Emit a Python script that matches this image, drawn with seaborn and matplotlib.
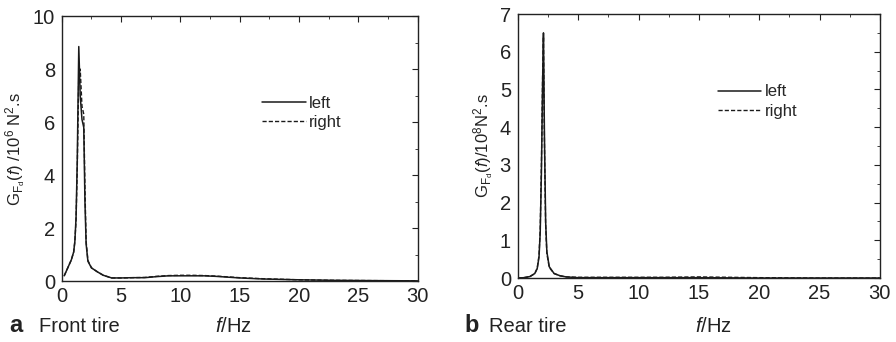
import numpy as np
import pandas as pd
import seaborn as sns
import matplotlib.pyplot as plt
from matplotlib.ticker import MultipleLocator

# Front tire PSD (10^6 N^2.s)
front_f = [0.2, 0.5, 0.8, 1.0, 1.1, 1.2, 1.3, 1.43, 1.55, 1.7, 1.85, 1.95, 2.05, 2.2, 2.5, 3.0, 3.5, 4.2, 5.0, 6.0, 7.0, 8.0, 9.0, 10.0, 11.0, 12.0, 13.0, 14.0, 15.0, 17.0, 20.0, 23.0, 26.0, 30.0]
front_left = [0.2, 0.5, 0.8, 1.1, 1.5, 2.4, 4.5, 8.85, 7.0, 6.1, 5.8, 3.0, 1.4, 0.75, 0.5, 0.35, 0.22, 0.12, 0.12, 0.13, 0.13, 0.17, 0.2, 0.2, 0.2, 0.2, 0.18, 0.15, 0.12, 0.08, 0.05, 0.03, 0.02, 0.01]
front_right = [0.2, 0.5, 0.8, 1.1, 1.5, 2.3, 4.2, 7.8, 8.0, 6.6, 6.3, 3.5, 1.5, 0.78, 0.5, 0.35, 0.22, 0.12, 0.12, 0.13, 0.14, 0.18, 0.21, 0.22, 0.22, 0.21, 0.19, 0.16, 0.13, 0.09, 0.05, 0.03, 0.02, 0.01]

# Rear tire PSD (10^8 N^2.s)
rear_f = [0.0, 0.5, 1.0, 1.4, 1.6, 1.75, 1.85, 1.95, 2.05, 2.12, 2.2, 2.3, 2.4, 2.6, 3.0, 3.5, 4.0, 5.0, 8.0, 12.0, 15.0, 20.0, 25.0, 30.0]
rear_left = [0.0, 0.01, 0.04, 0.12, 0.25, 0.55, 1.2, 2.8, 5.2, 6.5, 3.8, 1.5, 0.7, 0.3, 0.12, 0.06, 0.03, 0.01, 0.01, 0.01, 0.01, 0.0, 0.0, 0.0]
rear_right = [0.0, 0.01, 0.04, 0.12, 0.26, 0.6, 1.3, 3.0, 5.4, 6.4, 3.6, 1.4, 0.65, 0.28, 0.12, 0.06, 0.03, 0.02, 0.02, 0.02, 0.03, 0.01, 0.0, 0.0]

sns.set_theme(style="white")
plt.rcParams["font.family"] = ["Liberation Sans", "DejaVu Sans"]
plt.rcParams["mathtext.fontset"] = "custom"
plt.rcParams["mathtext.rm"] = "Liberation Sans"
plt.rcParams["mathtext.it"] = "Liberation Sans:italic"

fig = plt.figure(figsize=(8.96, 3.42), dpi=100)
ax1 = fig.add_axes([0.069, 0.178, 0.397, 0.775])
ax2 = fig.add_axes([0.578, 0.187, 0.404, 0.772])

col = "#1a1a1a"

def panel(ax, f, left, right, ymax, ymajor, legend_pos, ylabel):
    df = pd.DataFrame({"f": f, "left": left, "right": right})
    sns.lineplot(data=df, x="f", y="left", ax=ax, color=col, lw=1.1, label="left")
    sns.lineplot(data=df, x="f", y="right", ax=ax, color=col, lw=1.0, ls=(0, (3, 1.5)), label="right")
    ax.set_xlim(0, 30)
    ax.set_ylim(0, ymax)
    ax.xaxis.set_major_locator(MultipleLocator(5))
    ax.xaxis.set_minor_locator(MultipleLocator(2.5))
    ax.yaxis.set_major_locator(MultipleLocator(ymajor))
    ax.yaxis.set_minor_locator(MultipleLocator(ymajor / 2))
    ax.tick_params(which="both", direction="in", top=True, right=True, colors="#222222", labelcolor="#222222")
    ax.tick_params(which="major", length=4, width=0.8, labelsize=14.5)
    ax.tick_params(axis="x", which="major", pad=4)
    ax.tick_params(axis="y", which="major", pad=5)
    ax.tick_params(which="minor", length=2, width=0.6)
    for s in ax.spines.values():
        s.set_color("#222222")
        s.set_linewidth(1.0)
    ax.set_xlabel("")
    ax.set_ylabel(ylabel, fontsize=12, color="#222222", labelpad=3)
    ax.legend(loc="upper left", bbox_to_anchor=legend_pos, frameon=False, fontsize=12,
              handlelength=2.6, handletextpad=0.2, labelspacing=0.25, borderpad=0)

panel(ax1, front_f, front_left, front_right, 10, 2, (0.54, 0.73),
      r"G$_{\mathrm{F_d}}$($f$) /10$^6$ N$^2$.s")
panel(ax2, rear_f, rear_left, rear_right, 7, 1, (0.53, 0.765),
      r"G$_{\mathrm{F_d}}$($f$)/10$^8$N$^2$.s")

fig.text(0.010, 0.03, "a", fontsize=17, fontweight="bold", color="#222222")
fig.text(0.044, 0.03, "Front tire", fontsize=14.5, color="#222222")
fig.text(0.240, 0.03, r"$f$/Hz", fontsize=14.5, color="#222222")
fig.text(0.518, 0.03, "b", fontsize=17, fontweight="bold", color="#222222")
fig.text(0.546, 0.03, "Rear tire", fontsize=14.5, color="#222222")
fig.text(0.776, 0.03, r"$f$/Hz", fontsize=14.5, color="#222222")

fig.savefig("out.png", dpi=100)
